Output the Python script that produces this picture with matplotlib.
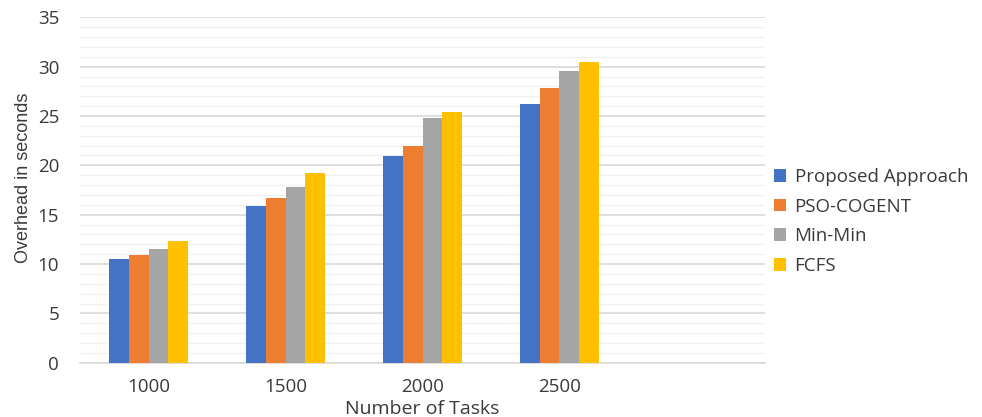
import matplotlib
matplotlib.use("Agg")
import matplotlib.pyplot as plt
from matplotlib.patches import Patch
from matplotlib.ticker import MultipleLocator
import numpy as np

# Data
tasks = ["1000", "1500", "2000", "2500"]
series_names = ["Proposed Approach", "PSO-COGENT", "Min-Min", "FCFS"]
proposed = [10.5, 15.9, 20.9, 26.2]
pso_cogent = [10.9, 16.7, 22.0, 27.8]
min_min = [11.5, 17.8, 24.8, 29.6]
fcfs = [12.3, 19.2, 25.4, 30.5]

colors = ["#4472C4", "#ED7D31", "#A5A5A5", "#FFC000"]
series = [proposed, pso_cogent, min_min, fcfs]

fig = plt.figure(figsize=(9.82, 4.17), dpi=100)
ax = fig.add_axes([0.0815, 0.130, 0.6975, 0.8285])

text_color = "#3A3A3A"
font = ["Open Sans", "DejaVu Sans"]

x = np.arange(len(tasks))
bar_w = 0.1425
for i, (vals, col) in enumerate(zip(series, colors)):
    offset = (i - 1.5) * bar_w
    ax.bar(x + offset, vals, width=bar_w, color=col, zorder=3, linewidth=0)

# An extra empty category slot to the right, as in the spreadsheet layout
ax.set_xlim(-0.5, 4.5)
ax.set_ylim(0, 35)
ax.set_xticks(x)
ax.set_xticklabels(tasks, fontsize=13.5, color=text_color, family=font)
ax.yaxis.set_major_locator(MultipleLocator(5))
ax.yaxis.set_minor_locator(MultipleLocator(1))
for lbl in ax.get_yticklabels():
    lbl.set_fontsize(13.5)
    lbl.set_color(text_color)
    lbl.set_family(font)

ax.tick_params(axis="both", which="both", length=0)
ax.tick_params(axis="x", pad=11)
ax.tick_params(axis="y", pad=15)

ax.grid(axis="y", which="major", color="#D9D9D9", linewidth=1.2, zorder=0)
ax.grid(axis="y", which="minor", color="#F0F0F0", linewidth=1.0, zorder=0)
ax.grid(axis="x", visible=False)

for side in ["top", "right", "left"]:
    ax.spines[side].set_visible(False)
ax.spines["bottom"].set_color("#D9D9D9")
ax.spines["bottom"].set_linewidth(1.2)

ax.set_xlabel("Number of Tasks", fontsize=14, color=text_color, family=font, labelpad=3)
ax.set_ylabel("Overhead in seconds", fontsize=13, color=text_color,
              family=["Liberation Sans", "DejaVu Sans"])
ax.yaxis.set_label_coords(-0.070, 0.535)

handles = [Patch(facecolor=c, edgecolor="none") for c in colors]
leg = fig.legend(handles, series_names, loc="upper left",
                 bbox_to_anchor=(0.7805, 0.615), frameon=False,
                 prop={"family": font, "size": 13.5},
                 handlelength=0.65, handleheight=0.65, handletextpad=0.45,
                 labelspacing=0.62, borderaxespad=0)
for t in leg.get_texts():
    t.set_color(text_color)

fig.savefig("out.png", dpi=100)
